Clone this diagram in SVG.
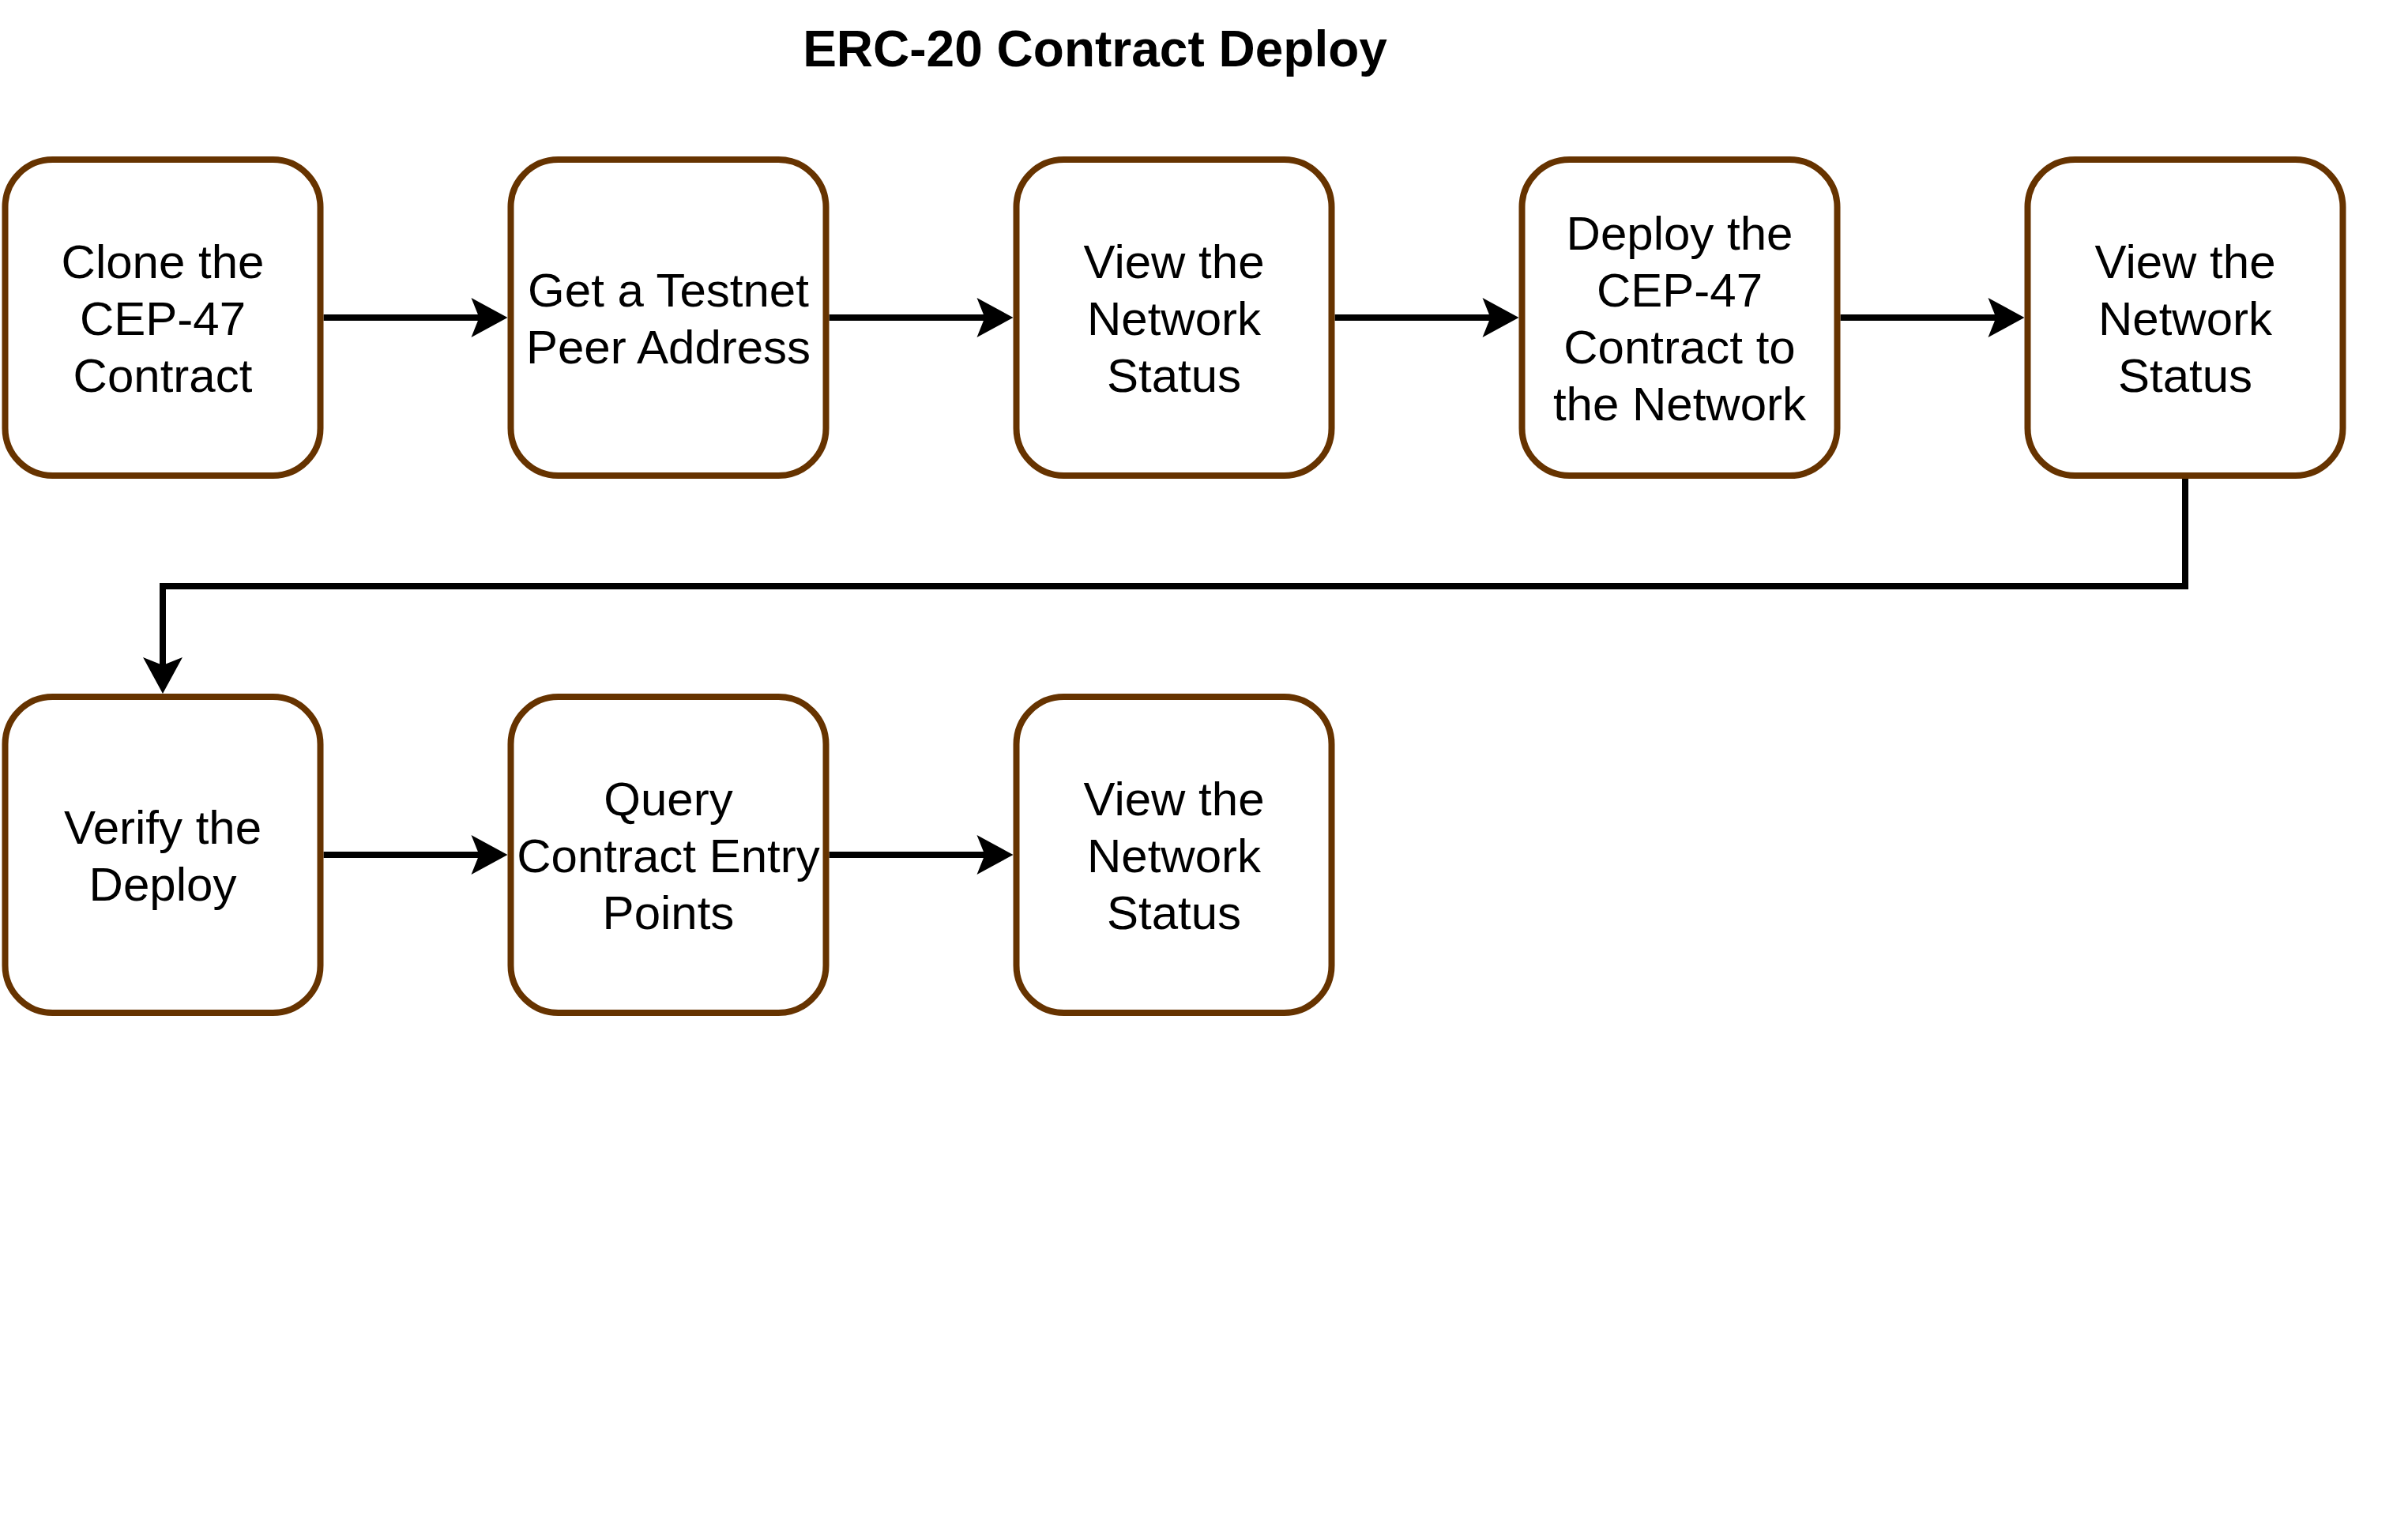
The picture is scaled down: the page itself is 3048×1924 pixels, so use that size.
<svg xmlns="http://www.w3.org/2000/svg" width="3048" height="1924" viewBox="0 0 3048 1924">
<style>
.box{fill:#ffffff;stroke:#663300;stroke-width:8}
.lbl{font-family:"Liberation Sans",Arial,Helvetica,sans-serif;font-size:60px;fill:#000000;text-anchor:middle}
.title{font-family:"Liberation Sans",Arial,Helvetica,sans-serif;font-size:64px;font-weight:bold;fill:#000000;text-anchor:middle}
.edge{fill:none;stroke:#000000;stroke-width:8}
.head{fill:#000000;stroke:none}
</style>
<rect x="0" y="0" width="3048" height="1924" fill="#ffffff"/>
<text class="title" x="1386" y="84">ERC-20 Contract Deploy</text>
<g id="connectors">
<path class="edge" d="M409.5 402 H608"/>
<polygon class="head" points="642.5,402 596.5,377 606.5,402 596.5,427"/>
<path class="edge" d="M1049.5 402 H1248"/>
<polygon class="head" points="1282.5,402 1236.5,377 1246.5,402 1236.5,427"/>
<path class="edge" d="M1689.5 402 H1888"/>
<polygon class="head" points="1922.5,402 1876.5,377 1886.5,402 1876.5,427"/>
<path class="edge" d="M2329.5 402 H2528"/>
<polygon class="head" points="2562.5,402 2516.5,377 2526.5,402 2516.5,427"/>
<path class="edge" d="M2766 606 V742 H206 V844"/>
<polygon class="head" points="206,878 181,832 206,842 231,832"/>
<path class="edge" d="M409.5 1082 H608"/>
<polygon class="head" points="642.5,1082 596.5,1057 606.5,1082 596.5,1107"/>
<path class="edge" d="M1049.5 1082 H1248"/>
<polygon class="head" points="1282.5,1082 1236.5,1057 1246.5,1082 1236.5,1107"/>
</g>
<g id="n1">
<rect class="box" x="6.5" y="202" width="399" height="400" rx="60" ry="60"/>
<text class="lbl" x="206" y="352">Clone the</text>
<text class="lbl" x="206" y="424">CEP-47</text>
<text class="lbl" x="206" y="496">Contract</text>
</g>
<g id="n2">
<rect class="box" x="646.5" y="202" width="399" height="400" rx="60" ry="60"/>
<text class="lbl" x="846" y="388">Get a Testnet</text>
<text class="lbl" x="846" y="460">Peer Address</text>
</g>
<g id="n3">
<rect class="box" x="1286.5" y="202" width="399" height="400" rx="60" ry="60"/>
<text class="lbl" x="1486" y="352">View the</text>
<text class="lbl" x="1486" y="424">Network</text>
<text class="lbl" x="1486" y="496">Status</text>
</g>
<g id="n4">
<rect class="box" x="1926.5" y="202" width="399" height="400" rx="60" ry="60"/>
<text class="lbl" x="2126" y="316">Deploy the</text>
<text class="lbl" x="2126" y="388">CEP-47</text>
<text class="lbl" x="2126" y="460">Contract to</text>
<text class="lbl" x="2126" y="532">the Network</text>
</g>
<g id="n5">
<rect class="box" x="2566.5" y="202" width="399" height="400" rx="60" ry="60"/>
<text class="lbl" x="2766" y="352">View the</text>
<text class="lbl" x="2766" y="424">Network</text>
<text class="lbl" x="2766" y="496">Status</text>
</g>
<g id="n6">
<rect class="box" x="6.5" y="882" width="399" height="400" rx="60" ry="60"/>
<text class="lbl" x="206" y="1068">Verify the</text>
<text class="lbl" x="206" y="1140">Deploy</text>
</g>
<g id="n7">
<rect class="box" x="646.5" y="882" width="399" height="400" rx="60" ry="60"/>
<text class="lbl" x="846" y="1032">Query</text>
<text class="lbl" x="846" y="1104">Contract Entry</text>
<text class="lbl" x="846" y="1176">Points</text>
</g>
<g id="n8">
<rect class="box" x="1286.5" y="882" width="399" height="400" rx="60" ry="60"/>
<text class="lbl" x="1486" y="1032">View the</text>
<text class="lbl" x="1486" y="1104">Network</text>
<text class="lbl" x="1486" y="1176">Status</text>
</g>
</svg>
